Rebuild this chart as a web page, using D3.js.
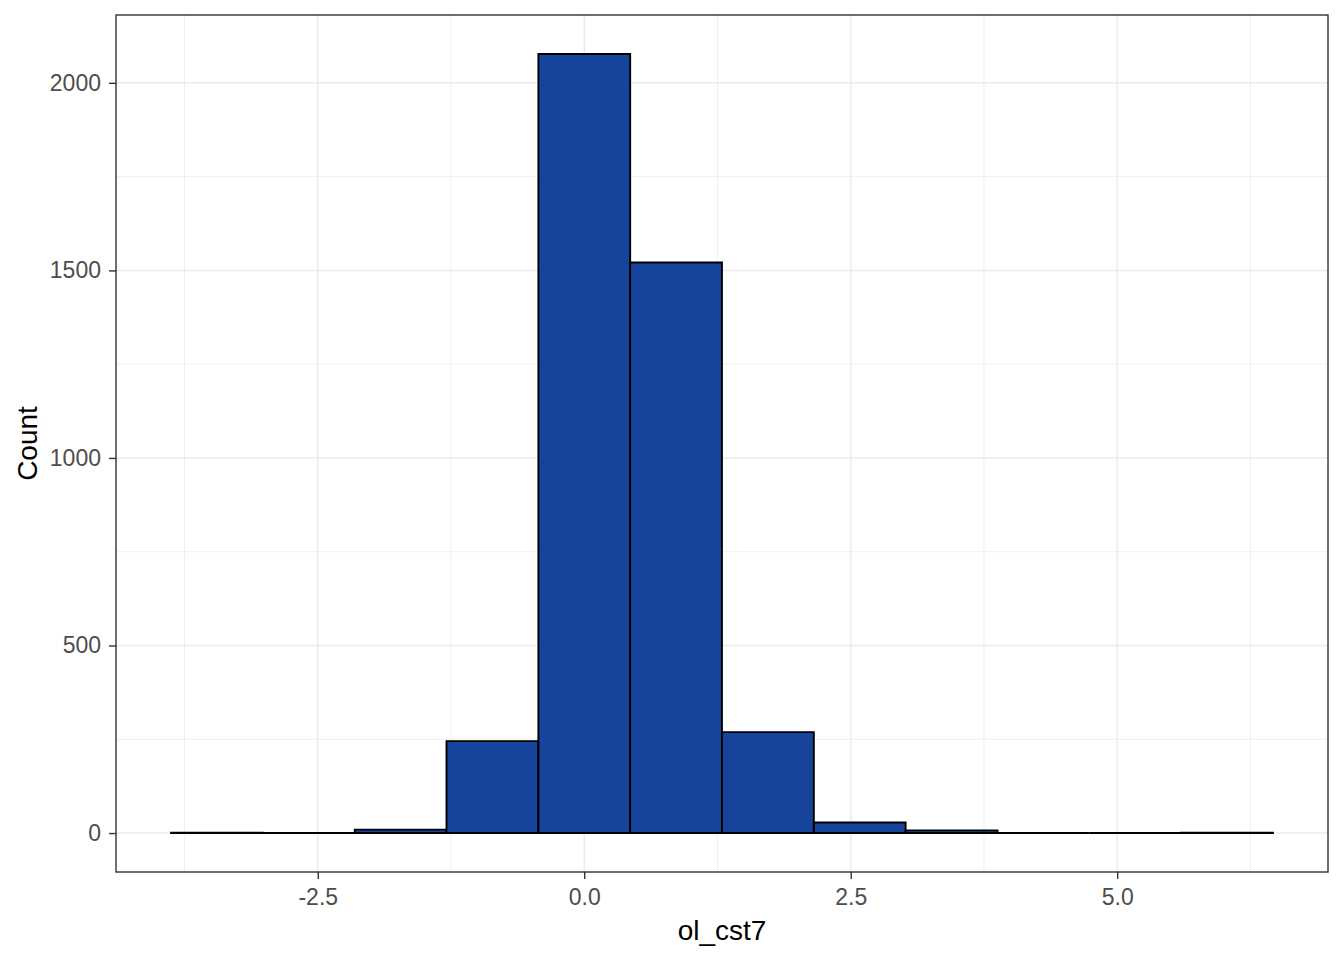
<!DOCTYPE html>
<html>
<head>
<meta charset="utf-8">
<script src="https://cdn.jsdelivr.net/npm/d3@7"></script>
<style>
  html, body { margin: 0; padding: 0; background: #ffffff; }
  svg { display: block; }
</style>
</head>
<body>
<svg id="chart" width="1344" height="960"></svg>
<script>
// ---- data ----
const binEdges = [-3.876, -3.015, -2.153, -1.292, -0.430, 0.431, 1.292, 2.154, 3.015, 3.877, 4.738, 5.600, 6.461];
const counts   = [1, 0, 9, 245, 2077, 1521, 269, 28, 7, 0, 0, 1];
const xTicks = [-2.5, 0.0, 2.5, 5.0];
const xTickLabels = ["-2.5", "0.0", "2.5", "5.0"];
const xMinor = [-3.75, -1.25, 1.25, 3.75, 6.25];
const yTicks = [0, 500, 1000, 1500, 2000];
const yTickLabels = ["0", "500", "1000", "1500", "2000"];
const yMinor = [250, 750, 1250, 1750];
const xTitle = "ol_cst7";
const yTitle = "Count";

// ---- layout ----
const panel = { left: 116, right: 1328, top: 15, bottom: 872 };
const fill = "#17449B";
const font = "'Liberation Sans', Arial, sans-serif";

const svg = d3.select("#chart");

const xLo = binEdges[0], xHi = binEdges[binEdges.length - 1];
const xPad = (xHi - xLo) * 0.05;
const x = d3.scaleLinear().domain([xLo - xPad, xHi + xPad]).range([panel.left, panel.right]);
const yMax = d3.max(counts);
const yPad = yMax * 0.05;
const y = d3.scaleLinear().domain([-yPad, yMax + yPad]).range([panel.bottom, panel.top]);

// panel background
svg.append("rect")
  .attr("x", panel.left).attr("y", panel.top)
  .attr("width", panel.right - panel.left).attr("height", panel.bottom - panel.top)
  .attr("fill", "#ffffff");

const grid = svg.append("g");
// minor grid
grid.selectAll(".xminor").data(xMinor).enter().append("line")
  .attr("x1", d => x(d)).attr("x2", d => x(d))
  .attr("y1", panel.top).attr("y2", panel.bottom)
  .attr("stroke", "#EBEBEB").attr("stroke-width", 0.8);
grid.selectAll(".yminor").data(yMinor).enter().append("line")
  .attr("y1", d => y(d)).attr("y2", d => y(d))
  .attr("x1", panel.left).attr("x2", panel.right)
  .attr("stroke", "#EBEBEB").attr("stroke-width", 0.8);
// major grid
grid.selectAll(".xmajor").data(xTicks).enter().append("line")
  .attr("x1", d => x(d)).attr("x2", d => x(d))
  .attr("y1", panel.top).attr("y2", panel.bottom)
  .attr("stroke", "#EBEBEB").attr("stroke-width", 1.5);
grid.selectAll(".ymajor").data(yTicks).enter().append("line")
  .attr("y1", d => y(d)).attr("y2", d => y(d))
  .attr("x1", panel.left).attr("x2", panel.right)
  .attr("stroke", "#EBEBEB").attr("stroke-width", 1.5);

// bars (paths so that zero-height bins still draw a line)
const bins = counts.map((c, i) => ({ x0: binEdges[i], x1: binEdges[i + 1], c }));
svg.append("g").selectAll("path").data(bins).enter().append("path")
  .attr("d", d => {
    const a = x(d.x0), b = x(d.x1), t = y(d.c), z = y(0);
    return `M${a},${z}H${b}V${t}H${a}Z`;
  })
  .attr("fill", fill)
  .attr("stroke", "#000000")
  .attr("stroke-width", 1.9)
  .attr("stroke-linejoin", "miter");

// panel border
svg.append("rect")
  .attr("x", panel.left).attr("y", panel.top)
  .attr("width", panel.right - panel.left).attr("height", panel.bottom - panel.top)
  .attr("fill", "none").attr("stroke", "#333333").attr("stroke-width", 1.4);

// axes
const xAxis = d3.axisBottom(x).tickValues(xTicks)
  .tickFormat((d, i) => xTickLabels[i]).tickSize(7).tickPadding(10);
const gx = svg.append("g").attr("transform", `translate(0,${panel.bottom})`).call(xAxis);
gx.select(".domain").remove();
gx.selectAll(".tick line").attr("stroke", "#333333").attr("stroke-width", 1.4);
gx.selectAll(".tick text").attr("fill", "#4D4D4D")
  .style("font-family", font).style("font-size", "23px");

const yAxis = d3.axisLeft(y).tickValues(yTicks)
  .tickFormat((d, i) => yTickLabels[i]).tickSize(7).tickPadding(8);
const gy = svg.append("g").attr("transform", `translate(${panel.left},0)`).call(yAxis);
gy.select(".domain").remove();
gy.selectAll(".tick line").attr("stroke", "#333333").attr("stroke-width", 1.4);
gy.selectAll(".tick text").attr("fill", "#4D4D4D")
  .style("font-family", font).style("font-size", "23px");

// titles
svg.append("text")
  .attr("x", (panel.left + panel.right) / 2).attr("y", 940)
  .attr("text-anchor", "middle")
  .style("font-family", font).style("font-size", "28px").attr("fill", "#000000")
  .text(xTitle);
svg.append("text")
  .attr("transform", `translate(37,${(panel.top + panel.bottom) / 2}) rotate(-90)`)
  .attr("text-anchor", "middle")
  .style("font-family", font).style("font-size", "28px").attr("fill", "#000000")
  .text(yTitle);
</script>
</body>
</html>
